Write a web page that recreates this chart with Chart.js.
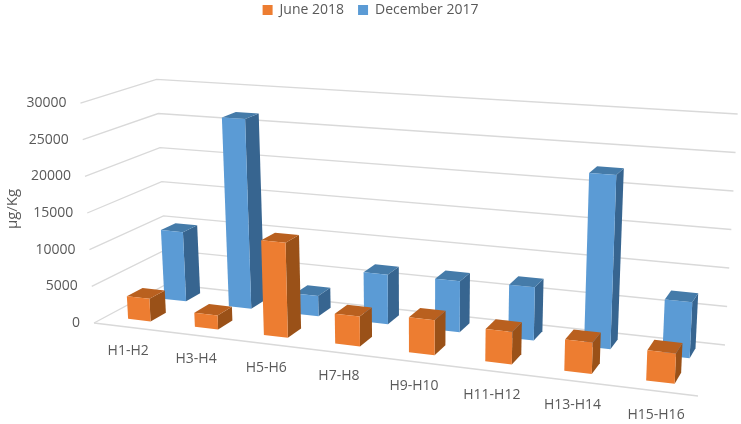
<!DOCTYPE html>
<html>
<head>
<meta charset="utf-8">
<title>3D columns</title>
<script src="https://cdn.jsdelivr.net/npm/chart.js@4"></script>
<style>
  html, body { margin: 0; padding: 0; background: #fff; }
  canvas { display: block; }
</style>
</head>
<body>
<canvas id="chart" width="741" height="424"></canvas>
<script>
const categories = ['H1-H2', 'H3-H4', 'H5-H6', 'H7-H8', 'H9-H10', 'H11-H12', 'H13-H14', 'H15-H16'];
const june2018 = [3100, 1900, 12600, 3900, 4500, 4100, 3900, 3700];
const december2017 = [9800, 26500, 2800, 6700, 6800, 7000, 22500, 7100];

const FONT = '"Open Sans", sans-serif';
const TEXT_COLOR = '#595959';
const GRID_COLOR = '#d9d9d9';

// floor of the 3D box on screen: front-left, front-right, back-right, back-left
const floorCorners = [[94, 323], [698, 396], [725, 345], [167, 284]];

function homography(q) {
  const [[x0, y0], [x1, y1], [x2, y2], [x3, y3]] = q;
  const dx1 = x1 - x2, dx2 = x3 - x2, sx = x0 - x1 + x2 - x3;
  const dy1 = y1 - y2, dy2 = y3 - y2, sy = y0 - y1 + y2 - y3;
  const den = dx1 * dy2 - dx2 * dy1;
  const g = (sx * dy2 - dx2 * sy) / den;
  const h = (dx1 * sy - sx * dy1) / den;
  const a = x1 - x0 + g * x1, b = x3 - x0 + h * x3;
  const d = y1 - y0 + g * y1, e = y3 - y0 + h * y3;
  return (u, z) => {
    const w = g * u + h * z + 1;
    return [(a * u + b * z + x0) / w, (d * u + e * z + y0) / w];
  };
}
const floorAt = homography(floorCorners);

// u along categories, z into the depth, v up, all 0..1
// verticals lean out from the middle and get taller towards the viewer
function project(u, z, v) {
  const [fx, fy] = floorAt(u, z);
  const lean = (fx - 420) * 0.0415;
  const height = 90 + 0.00344 * fx + 0.4014 * fy;
  return [fx + lean * v, fy - height * v];
}

// each series has its own row in depth: [front, back]
const rows = [[0.16, 0.37], [0.66, 0.87]];
const faces = [
  { front: '#ed7d31', top: '#b9601f', side: '#9a5118' },
  { front: '#5b9bd5', top: '#457ba9', side: '#376590' }
];
const barWidth = 0.34; // part of a category

function face(ctx, pts, color) {
  ctx.fillStyle = color;
  ctx.beginPath();
  pts.forEach((p, i) => (i ? ctx.lineTo(p[0], p[1]) : ctx.moveTo(p[0], p[1])));
  ctx.closePath();
  ctx.fill();
}

const box3d = {
  id: 'box3d',
  beforeInit(chart) {
    // keep the legend at the top but start the plot lower down
    const fit = chart.legend.fit;
    chart.legend.fit = function () {
      fit.call(this);
      this.height = 114;
    };
  },
  beforeDatasetDraw() {
    return false; // the plugin paints the bars
  },
  afterDatasetsDraw(chart) {
    const ctx = chart.ctx;
    const xScale = chart.scales.x, yScale = chart.scales.y;
    const toU = (px) => (px - xScale.left) / xScale.width;
    const toV = (val) => (yScale.bottom - yScale.getPixelForValue(val)) / yScale.height;

    ctx.save();
    // walls
    ctx.strokeStyle = GRID_COLOR;
    ctx.lineWidth = 1.3;
    yScale.ticks.forEach((tick) => {
      const v = toV(tick.value);
      const a = project(0, 0, v), b = project(0, 1, v), c = project(1, 1, v);
      ctx.beginPath();
      ctx.moveTo(a[0], a[1]);
      ctx.lineTo(b[0], b[1]);
      ctx.lineTo(c[0], c[1]);
      ctx.stroke();
    });
    const fl = project(0, 0, 0), fr = project(1, 0, 0);
    ctx.beginPath();
    ctx.moveTo(fl[0], fl[1]);
    ctx.lineTo(fr[0], fr[1]);
    ctx.stroke();

    // tick labels follow the slanted front edge
    ctx.fillStyle = TEXT_COLOR;
    ctx.font = '14px ' + FONT;
    ctx.textAlign = 'right';
    ctx.textBaseline = 'middle';
    yScale.ticks.forEach((tick) => {
      const p = project(0, 0, toV(tick.value));
      ctx.fillText(String(tick.value), p[0] - 14, p[1]);
    });

    ctx.textAlign = 'center';
    categories.forEach((label, i) => {
      const p = project(toU(xScale.getPixelForValue(i)), 0, 0);
      ctx.fillText(label, p[0] + 1, p[1] + 24);
    });

    // back row first
    for (let ds = chart.data.datasets.length - 1; ds >= 0; ds--) {
      const [z0, z1] = rows[ds];
      const half = barWidth / categories.length / 2;
      chart.data.datasets[ds].data.forEach((val, i) => {
        const u = toU(xScale.getPixelForValue(i));
        const u0 = u - half, u1 = u + half;
        const v = toV(val);
        face(ctx, [project(u1, z0, 0), project(u1, z1, 0), project(u1, z1, v), project(u1, z0, v)], faces[ds].side);
        face(ctx, [project(u0, z0, v), project(u1, z0, v), project(u1, z1, v), project(u0, z1, v)], faces[ds].top);
        face(ctx, [project(u0, z0, 0), project(u1, z0, 0), project(u1, z0, v), project(u0, z0, v)], faces[ds].front);
      });
    }
    ctx.restore();
  }
};

new Chart(document.getElementById('chart'), {
  type: 'bar',
  data: {
    labels: categories,
    datasets: [
      { label: 'June 2018', data: june2018, backgroundColor: '#ed7d31' },
      { label: 'December 2017', data: december2017, backgroundColor: '#5b9bd5' }
    ]
  },
  options: {
    responsive: false,
    animation: false,
    layout: { padding: { left: 0, right: 0, top: -11, bottom: 101 } },
    plugins: {
      tooltip: { enabled: false },
      legend: {
        position: 'top',
        labels: {
          color: TEXT_COLOR,
          font: { family: FONT, size: 14 },
          boxWidth: 10,
          boxHeight: 10,
          padding: 14
        }
      }
    },
    scales: {
      x: { grid: { display: false }, border: { display: false }, ticks: { display: false } },
      y: {
        min: 0,
        max: 30000,
        grid: { display: false },
        border: { display: false },
        ticks: { display: false, stepSize: 5000 },
        title: { display: true, text: 'µg/Kg', color: TEXT_COLOR, font: { family: FONT, size: 15 } }
      }
    }
  },
  plugins: [box3d]
});
</script>
</body>
</html>
